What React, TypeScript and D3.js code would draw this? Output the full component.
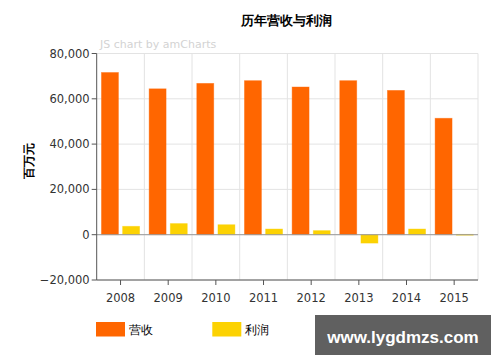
import * as d3 from 'd3';
import React, { ReactElement } from 'react';

const years = ['2008', '2009', '2010', '2011', '2012', '2013', '2014', '2015'];
const revenue = [71600, 64400, 66800, 68000, 65200, 68000, 63700, 51400];
const profit = [3700, 4900, 4400, 2500, 1800, -3700, 2500, 150];
const seriesNames = ['营收', '利润'];
const seriesColors = ['#ff6600', '#fcd202'];
const yTicks = [-20000, 0, 20000, 40000, 60000, 80000];

const W = 500;
const H = 362;
const LEFT = 96.7;
const RIGHT = 478;
const TOP = 53.5;
const BOTTOM = 280;
const FONT = '"DejaVu Sans", Verdana, sans-serif';

const App = (): ReactElement => {
  const x = d3.scaleBand<string>().domain(years).range([LEFT, RIGHT]);
  const bw = x.bandwidth();
  const xs = d3
    .scaleBand<string>()
    .domain(seriesNames)
    .range([bw * 0.1, bw * 0.9])
    .paddingInner(0.2);
  const y = d3.scaleLinear().domain([-20000, 80000]).range([BOTTOM, TOP]);
  const fmt = d3.format(',');
  const series = [revenue, profit];

  return (
    <svg
      width={W}
      height={H}
      style={{ position: 'absolute', left: 0, top: 0, background: '#fff' }}
      fontFamily={FONT}
    >
      {/* grid */}
      {yTicks.map((t) => (
        <line key={'gy' + t} x1={LEFT} x2={RIGHT} y1={y(t)} y2={y(t)} stroke="#e3e3e3" />
      ))}
      {years.map((yr) => (
        <line
          key={'gx' + yr}
          x1={(x(yr) as number) + bw}
          x2={(x(yr) as number) + bw}
          y1={TOP}
          y2={BOTTOM}
          stroke="#e3e3e3"
        />
      ))}

      {/* bars */}
      {series.map((vals, si) =>
        vals.map((v, i) => {
          const bx = (x(years[i]) as number) + (xs(seriesNames[si]) as number);
          const y0 = y(Math.max(0, v));
          const h = Math.max(0.8, Math.abs(y(v) - y(0)));
          return (
            <rect
              key={si + '-' + i}
              x={bx}
              y={y0}
              width={xs.bandwidth()}
              height={h}
              fill={seriesColors[si]}
              stroke={seriesColors[si]}
              strokeOpacity={0.5}
              strokeWidth={0.8}
            />
          );
        }),
      )}

      {/* zero line */}
      <line x1={LEFT} x2={RIGHT} y1={y(0)} y2={y(0)} stroke="#999" strokeWidth={1} />

      {/* axes */}
      <line x1={LEFT} x2={LEFT} y1={TOP} y2={BOTTOM} stroke="#555" />
      <line x1={LEFT} x2={RIGHT} y1={BOTTOM} y2={BOTTOM} stroke="#555" />
      {yTicks.map((t) => (
        <g key={'ty' + t}>
          <line x1={LEFT - 5} x2={LEFT} y1={y(t)} y2={y(t)} stroke="#555" />
          <text x={LEFT - 7} y={y(t) + 4} textAnchor="end" fontSize={11.5} fill="#333">
            {fmt(t)}
          </text>
        </g>
      ))}
      {years.map((yr) => {
        const cx = (x(yr) as number) + bw / 2;
        return (
          <g key={'tx' + yr}>
            <line x1={cx} x2={cx} y1={BOTTOM} y2={BOTTOM + 5} stroke="#555" />
            <text x={cx} y={302} textAnchor="middle" fontSize={11.5} fill="#333">
              {yr}
            </text>
          </g>
        );
      })}

      {/* titles */}
      <text x={286.5} y={25} textAnchor="middle" fontSize={13} fontWeight="bold" fill="#000">
        历年营收与利润
      </text>
      <text x={100} y={48} fontSize={11} fill="#d3d3d3">
        JS chart by amCharts
      </text>
      <text
        transform="translate(33,161) rotate(-90)"
        textAnchor="middle"
        fontSize={12}
        fontWeight="bold"
        fill="#000"
      >
        百万元
      </text>

      {/* legend */}
      {seriesNames.map((n, i) => (
        <g key={'lg' + n} transform={`translate(${96 + i * 116.3},322)`}>
          <rect width={29} height={14.5} fill={seriesColors[i]} />
          <text x={33} y={12} fontSize={12} fill="#000">
            {n}
          </text>
        </g>
      ))}

      {/* watermark */}
      <rect x={315} y={315} width={176} height={40} fill="#606060" />
      <text
        x={403}
        y={343}
        textAnchor="middle"
        fontSize={17}
        fontWeight="bold"
        fill="#fff"
        fontFamily='"Liberation Sans", Arial, sans-serif'
      >
        www.lygdmzs.com
      </text>
    </svg>
  );
};

export default App;
